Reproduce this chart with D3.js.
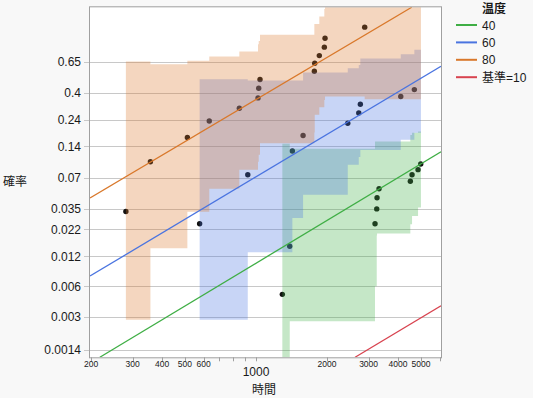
<!DOCTYPE html>
<html>
<head>
<meta charset="utf-8">
<script src="https://cdn.jsdelivr.net/npm/d3@7"></script>
<style>
  body { margin: 0; background: #f8f8f8; }
  text { font-family: "Liberation Sans", Arial, "Noto Sans CJK JP", sans-serif; fill: #1a1a1a; }
  .cjk { font-family: "Noto Sans CJK JP", sans-serif; }
</style>
</head>
<body>
<svg id="chart" width="533" height="398"></svg>
<script>
// failure times and plotted probabilities per temperature
var time80 = [281, 357, 512, 634, 850, 1020, 1027, 1040, 1767, 1774, 1855, 1948, 1961, 2888];
var prob80 = [0.033, 0.100, 0.168, 0.235, 0.302, 0.366, 0.434, 0.501, 0.569, 0.636, 0.700, 0.768, 0.834, 0.901];
var time60 = [577, 923, 1426, 1583, 2448, 2726, 2768, 4106, 4688];
var prob60 = [0.025, 0.075, 0.126, 0.175, 0.225, 0.276, 0.326, 0.375, 0.424];
var time40 = [1293, 1390, 3194, 3248, 3258, 3322, 4508, 4584, 4860, 4990];
var prob40 = [0.005, 0.015, 0.025, 0.035, 0.045, 0.055, 0.065, 0.075, 0.084, 0.095];

// step confidence bands (one step per failure time, last one runs to bandEnd)
var bandEnd = 5000;
var hi80 = [0.65, 0.628, 0.656, 0.692, 0.733, 0.79, 0.815, 0.856, 0.917, 0.917, 0.948, 0.97, 0.99, 0.99];
var lo80 = [0.0028, 0.0143, 0.0328, 0.0549, 0.0837, 0.10, 0.116, 0.149, 0.186, 0.266, 0.308, 0.353, 0.375, 0.358];
var hi60 = [0.504, 0.493, 0.493, 0.558, 0.594, 0.62, 0.675, 0.712, 0.747];
var lo60 = [0.0028, 0.0131, 0.0285, 0.048, 0.0935, 0.111, 0.129, 0.16, 0.185];
var hi40 = [0.147, 0.132, 0.154, 0.154, 0.154, 0.154, 0.177, 0.185, 0.19, 0.19];
var lo40 = [0.0008, 0.0027, 0.006, 0.0192, 0.02, 0.02, 0.0247, 0.0299, 0.0362, 0.0362];

// fitted lines, two end points each [time, prob]
var fit40 = [[218, 0.00118], [6080, 0.124]];
var fit60 = [[198, 0.0076], [6080, 0.61]];
var fit80 = [[198, 0.0448], [4570, 0.974]];
var fitRef = [[2630, 0.00118], [6080, 0.00385]];

var legendLabels = ["40", "60", "80", "基準=10"];
var yTicks = [0.0014, 0.003, 0.006, 0.012, 0.022, 0.035, 0.07, 0.14, 0.24, 0.4, 0.65];
var xTicks = [200, 300, 400, 500, 600, 700, 800, 900, 1000, 2000, 3000, 4000, 5000, 6000];
var xLabeled = [200, 300, 400, 500, 600, 1000, 2000, 3000, 4000, 5000];

var colors = {c40: "#3fae45", c60: "#4a74e0", c80: "#d9782b", ref: "#d8434f"};

var pLeft = 90, pRight = 441, pTop = 7.3, pBottom = 357.3;
var svg = d3.select('#chart');

// weibull probability scale
function wb(p) { return Math.log(-Math.log(1 - p)); }
var yLin = d3.scaleLinear().domain([wb(0.00118), wb(0.974)]).range([pBottom, pTop]);
var y = function(p) { return yLin(wb(p)); };
var x = d3.scaleLog().domain([198, 6080]).range([pLeft, pRight]);

svg.append('rect')
  .attr('x', pLeft).attr('y', pTop)
  .attr('width', pRight - pLeft).attr('height', pBottom - pTop)
  .attr('fill', '#fff');

svg.append('defs').append('clipPath').attr('id', 'plotclip')
  .append('rect')
  .attr('x', pLeft).attr('y', pTop)
  .attr('width', pRight - pLeft).attr('height', pBottom - pTop);

// grid
svg.append('g').selectAll('line')
  .data(yTicks).enter().append('line')
  .attr('x1', pLeft - 6).attr('x2', pRight)
  .attr('y1', function(d) { return Math.round(y(d)) + 0.5; })
  .attr('y2', function(d) { return Math.round(y(d)) + 0.5; })
  .attr('stroke', '#c8c8c8');

var plot = svg.append('g').attr('clip-path', 'url(#plotclip)');

// points under the bands
var pts = [];
time80.forEach(function(t, i) { pts.push([t, prob80[i]]); });
time60.forEach(function(t, i) { pts.push([t, prob60[i]]); });
time40.forEach(function(t, i) { pts.push([t, prob40[i]]); });
plot.selectAll('circle')
  .data(pts).enter().append('circle')
  .attr('cx', function(d) { return x(d[0]); })
  .attr('cy', function(d) { return y(d[1]); })
  .attr('r', 2.7)
  .attr('fill', '#111');

function bandPath(ts, lo, hi) {
  var up = [], dn = [];
  ts.forEach(function(t, i) {
    var x0 = x(t), x1 = x(i + 1 < ts.length ? ts[i + 1] : bandEnd);
    up.push([x0, y(hi[i])], [x1, y(hi[i])]);
    dn.push([x0, y(lo[i])], [x1, y(lo[i])]);
  });
  return 'M' + up.concat(dn.reverse()).join('L') + 'Z';
}

var bands = [
  {t: time40, lo: lo40, hi: hi40, c: colors.c40},
  {t: time60, lo: lo60, hi: hi60, c: colors.c60},
  {t: time80, lo: lo80, hi: hi80, c: colors.c80}
];
plot.selectAll('path.band')
  .data(bands).enter().append('path')
  .attr('class', 'band')
  .attr('d', function(d) { return bandPath(d.t, d.lo, d.hi); })
  .attr('fill', function(d) { return d.c; })
  .attr('fill-opacity', 0.3);

var line = d3.line()
  .x(function(d) { return x(d[0]); })
  .y(function(d) { return y(d[1]); });
var fits = [
  {pts: fit40, c: colors.c40},
  {pts: fit60, c: colors.c60},
  {pts: fit80, c: colors.c80},
  {pts: fitRef, c: colors.ref}
];
plot.selectAll('path.fit')
  .data(fits).enter().append('path')
  .attr('class', 'fit')
  .attr('d', function(d) { return line(d.pts); })
  .attr('fill', 'none')
  .attr('stroke', function(d) { return d.c; })
  .attr('stroke-width', 1.3);

// frame
svg.append('rect')
  .attr('x', pLeft - 0.5).attr('y', pTop - 0.5)
  .attr('width', pRight - pLeft + 1).attr('height', pBottom - pTop + 1)
  .attr('fill', 'none').attr('stroke', '#a0a0a0');

// y axis labels
svg.append('g').selectAll('text')
  .data(yTicks).enter().append('text')
  .attr('x', 81)
  .attr('y', function(d) { return y(d) + 4.5; })
  .attr('text-anchor', 'end')
  .attr('font-size', '12px')
  .text(function(d) { return d; });

// x axis ticks and labels
svg.append('g').selectAll('line')
  .data(xTicks).enter().append('line')
  .attr('x1', function(d) { return Math.round(x(d)) + 0.5; })
  .attr('x2', function(d) { return Math.round(x(d)) + 0.5; })
  .attr('y1', pBottom).attr('y2', pBottom + 4)
  .attr('stroke', '#a0a0a0');

svg.append('g').selectAll('text')
  .data(xLabeled).enter().append('text')
  .attr('x', function(d) { return x(d); })
  .attr('y', function(d) { return d === 1000 ? 376 : 367; })
  .attr('text-anchor', 'middle')
  .attr('font-size', function(d) { return d === 1000 ? '12px' : '8.5px'; })
  .text(function(d) { return d; });

svg.append('text').attr('class', 'cjk')
  .attr('x', 264).attr('y', 394)
  .attr('text-anchor', 'middle').attr('font-size', '12px')
  .text('時間');
svg.append('text').attr('class', 'cjk')
  .attr('x', 3).attr('y', 186)
  .attr('font-size', '12px')
  .text('確率');

// legend
var legend = svg.append('g');
legend.append('text').attr('class', 'cjk')
  .attr('x', 482).attr('y', 13)
  .attr('font-size', '12px').attr('font-weight', 'bold')
  .text('温度');
var legendColors = [colors.c40, colors.c60, colors.c80, colors.ref];
var rows = legend.selectAll('g.row')
  .data(legendLabels).enter().append('g')
  .attr('class', 'row')
  .attr('transform', function(d, i) { return 'translate(0,' + (25 + i * 17.4) + ')'; });
rows.append('line')
  .attr('x1', 456).attr('x2', 477)
  .attr('stroke', function(d, i) { return legendColors[i]; })
  .attr('stroke-width', 2);
rows.append('text')
  .attr('x', 482).attr('y', 4.5)
  .attr('font-size', '12px')
  .text(function(d) { return d; });
</script>
</body>
</html>
